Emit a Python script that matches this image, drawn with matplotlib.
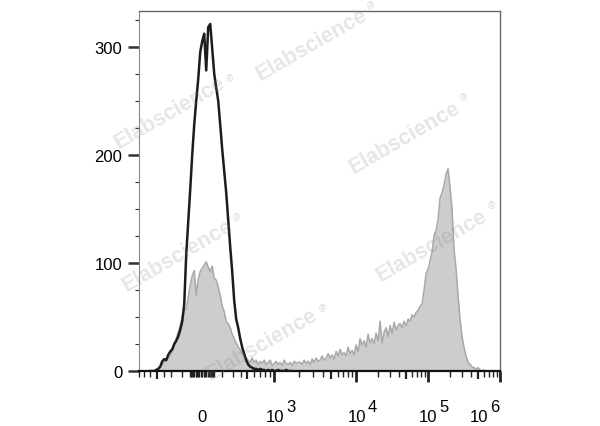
import numpy as np
import matplotlib
matplotlib.use("Agg")
from matplotlib import pyplot as plt

plt.rcParams["font.family"] = ["Liberation Sans", "DejaVu Sans"]

# biexponential-like display: fluorescence value -> display channel
scale_values = np.array([-1e4, -1000, -500, -200, 0, 200, 500, 1000, 1e4, 1e5, 1e6, 1e7])
scale_channels = np.array([-154, -72, -45, -20, 0, 20, 45, 72, 154, 226, 298, 370])

# histogram bins, in display channels
channel_start = -52
channel_step = 2

# unstained control (black outline)
black_counts = [0, 0, 0, 1, 2, 4, 9, 11, 10, 15,
                18, 20, 25, 28, 32, 38, 46, 62, 108, 138,
                168, 200, 228, 250, 270, 295, 305, 312, 278, 318,
                321, 298, 275, 262, 250, 228, 205, 185, 165, 140,
                115, 92, 65, 48, 40, 30, 22, 16, 10, 6,
                4, 3, 2, 2, 1, 2, 1, 1, 0, 1,
                0, 1, 0, 0, 1, 0, 0, 0, 1, 0, 0]

# stained sample (grey filled)
grey_counts = [0, 0, 0, 1, 2, 4, 6, 8, 10, 12,
               14, 18, 24, 30, 36, 42, 50, 55, 58, 68,
               80, 88, 93, 70, 85, 92, 95, 98, 101, 96,
               92, 97, 86, 84, 78, 70, 60, 55, 46, 44,
               40, 34, 30, 26, 22, 20, 16, 14, 12, 10,
               8, 12, 8, 10, 6, 9, 7, 10, 6, 8,
               10, 5, 7, 9, 6, 8, 5, 10, 7, 6,
               8, 5, 9, 7, 8, 8, 6, 10, 7, 9,
               6, 11, 8, 12, 9, 10, 14, 10, 12, 16,
               12, 15, 11, 18, 14, 20, 15, 17, 14, 22,
               16, 19, 15, 24, 18, 30, 24, 28, 22, 34,
               26, 30, 25, 35, 28, 46, 26, 36, 40, 32,
               42, 35, 45, 38, 42, 44, 40, 46, 42, 48,
               46, 52, 50, 54, 56, 60, 62, 75, 90, 94,
               102, 110, 125, 130, 140, 160, 165, 172, 182, 187,
               170, 150, 112, 95, 70, 48, 32, 22, 14, 8,
               6, 4, 3, 2, 3, 1, 0, 1, 0, 0]

x_label_vals = [0, 1e3, 1e4, 1e5, 1e6]
x_label_base = ["0", "10", "10", "10", "10"]
x_label_exp = ["", "3", "4", "5", "6"]
x_label_nudge = [0, 10, 10, 9, -12]

major_ticks = [1e3, 1e4, 1e5, 1e6]
mid_ticks = [-500, 500, 5e3, 5e4, 5e5]
minor_ticks = ([-800, -700, -600, -400, -300, -200, -100]
               + list(range(-90, 100, 10))
               + [100, 200, 300, 400, 600, 700, 800, 900]
               + [k * 10 ** d for d in (3, 4, 5) for k in (2, 3, 4, 6, 7, 8, 9)])

watermark_pos = [(312, 45), (170, 113), (405, 138), (178, 256), (432, 246), (262, 345)]
reg_pos = [(370, 6), (229, 79), (463, 98), (236, 218), (491, 206), (322, 309)]


def _u(v):
    return np.arcsinh(np.asarray(v, dtype=float) / 100.0)


def to_channel(v):
    return np.interp(_u(v), _u(scale_values), scale_channels)


def to_value(c):
    return 100.0 * np.sinh(np.interp(c, scale_channels, _u(scale_values)))


black_x = to_value(channel_start + channel_step * np.arange(len(black_counts)))
grey_x = to_value(channel_start + channel_step * np.arange(len(grey_counts)))

W, H = 600, 427
fig = plt.figure(figsize=(6, 4.27), dpi=100)
ax = fig.add_axes([139 / W, 1 - 372 / H, (500 - 139) / W, (372 - 12) / H])
ax.set_xscale("function", functions=(to_channel, to_value))

ax.fill_between(grey_x, grey_counts, color="#cdcdcd", lw=0, zorder=1)
ax.plot(grey_x, grey_counts, color="#a8a8a8", lw=1.1, zorder=2)
ax.plot(black_x, black_counts, color="#1c1c1c", lw=1.8, zorder=3)

ax.set_xlim(to_value(-63), 1e6)
ax.set_ylim(0, 333)

# spines
for side in ["top", "right"]:
    ax.spines[side].set_color("#666666")
    ax.spines[side].set_linewidth(1.0)
ax.spines["left"].set_color("#888888")
ax.spines["left"].set_linewidth(0.8)
ax.spines["bottom"].set_color("#111111")
ax.spines["bottom"].set_linewidth(1.6)

# y ticks
ax.set_yticks([0, 100, 200, 300])
ax.set_yticks(np.arange(25, 333, 25), minor=True)
ax.tick_params(axis="y", which="major", length=8, width=1.8, color="#333333",
               labelsize=12, pad=4)
ax.tick_params(axis="y", which="minor", length=3, width=0.8, color="#333333")

# x ticks
ax.set_xticks(major_ticks + mid_ticks)
ax.set_xticks(minor_ticks, minor=True)
ax.tick_params(axis="x", which="major", length=8, width=2.0, color="#222222",
               labelbottom=False)
ax.tick_params(axis="x", which="minor", length=4, width=1.0, color="#222222")
for tick, val in zip(ax.xaxis.get_major_ticks(), major_ticks + mid_ticks):
    if val in mid_ticks:
        tick.tick1line.set_markersize(6)
        tick.tick1line.set_markeredgewidth(1.6)

# x tick labels: "10" with a full-size raised exponent
for val, base, exp, dx in zip(x_label_vals, x_label_base, x_label_exp, x_label_nudge):
    if not exp:
        ax.annotate(base, xy=(val, 0), xycoords=("data", "axes fraction"),
                    xytext=(0, -50), textcoords="offset pixels",
                    ha="center", va="baseline", fontsize=12)
        continue
    ax.annotate(base, xy=(val, 0), xycoords=("data", "axes fraction"),
                xytext=(dx, -50), textcoords="offset pixels",
                ha="right", va="baseline", fontsize=12)
    ax.annotate(exp, xy=(val, 0), xycoords=("data", "axes fraction"),
                xytext=(dx + 2, -40), textcoords="offset pixels",
                ha="left", va="baseline", fontsize=12)

# watermarks
for (px, py), (rx, ry) in zip(watermark_pos, reg_pos):
    fig.text(px / W, 1 - py / H, "Elabscience", rotation=30, rotation_mode="anchor",
             ha="center", va="center", fontsize=15.5, fontweight="bold",
             color="#808080", alpha=0.2, zorder=10)
    fig.text(rx / W, 1 - ry / H, "\u00ae", ha="center", va="center", fontsize=7,
             color="#808080", alpha=0.3, zorder=10)

plt.savefig("out.png", dpi=100)
